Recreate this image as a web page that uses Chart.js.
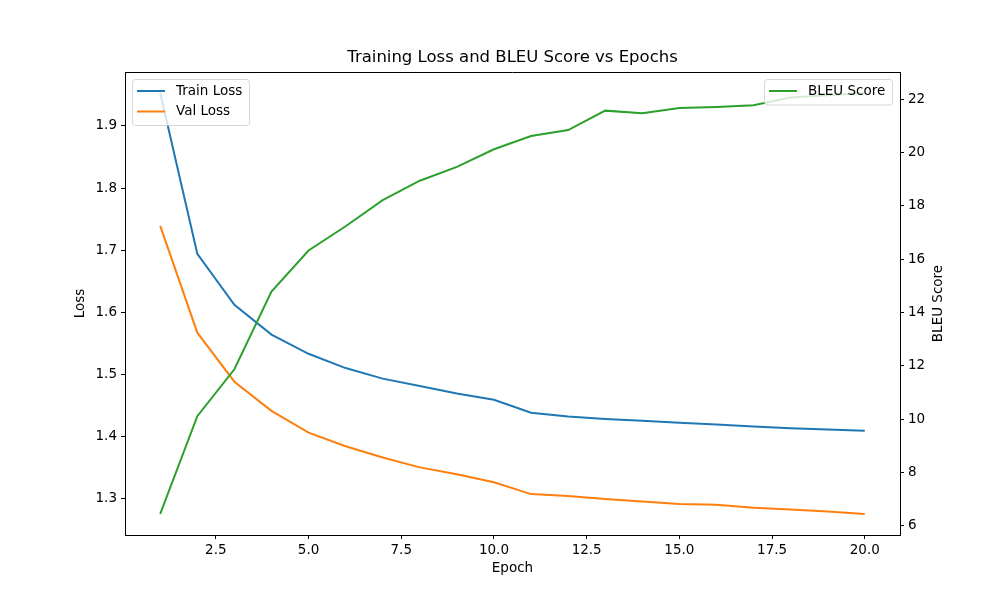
<!DOCTYPE html>
<html>
<head>
<meta charset="utf-8">
<script src="https://cdn.jsdelivr.net/npm/chart.js@4"></script>
<style>
  html, body { margin: 0; padding: 0; background: #fff; }
  #chart { display: block; }
</style>
</head>
<body>
<canvas id="chart" width="1000" height="600"></canvas>
<script>
// Values.
const epochs = [1, 2, 3, 4, 5, 6, 7, 8, 9, 10, 11, 12, 13, 14, 15, 16, 17, 18, 19, 20];
const trainLoss = [1.953, 1.694, 1.612, 1.564, 1.533, 1.510, 1.493, 1.481, 1.469, 1.459,
  1.438, 1.432, 1.428, 1.425, 1.422, 1.419, 1.416, 1.413, 1.411, 1.409];
const valLoss = [1.739, 1.567, 1.488, 1.441, 1.406, 1.384, 1.366, 1.350, 1.339, 1.326,
  1.307, 1.304, 1.299, 1.295, 1.291, 1.290, 1.285, 1.282, 1.279, 1.275];
const bleuScore = [6.44, 10.11, 11.87, 14.79, 16.33, 17.24, 18.22, 18.95, 19.47, 20.13,
  20.63, 20.85, 21.58, 21.48, 21.68, 21.72, 21.78, 22.07, 22.16, 22.24];

const xTicks = [2.5, 5.0, 7.5, 10.0, 12.5, 15.0, 17.5, 20.0];
const lossTicks = [1.3, 1.4, 1.5, 1.6, 1.7, 1.8, 1.9];
const bleuTicks = [6, 8, 10, 12, 14, 16, 18, 20, 22];

const FONT = "'DejaVu Sans', sans-serif";
Chart.defaults.color = "#000";
Chart.defaults.font.family = FONT;

// matplotlib style 5% margins around the data
function paddedRange(values) {
  const lo = Math.min(...values);
  const hi = Math.max(...values);
  const pad = (hi - lo) * 0.05;
  return { min: lo - pad, max: hi + pad };
}
const xRange = paddedRange(epochs);
const lossRange = paddedRange(trainLoss.concat(valLoss));
const bleuRange = paddedRange(bleuScore);

function toPoints(ys) {
  return epochs.map((e, i) => ({ x: e, y: ys[i] }));
}

// Title, top spine, right axis label and the two matplotlib-like legends
const decorPlugin = {
  id: "decor",
  afterDatasetsDraw(chart) {
    const { ctx, chartArea } = chart;
    const ds = chart.data.datasets;
    ctx.save();

    // top spine (the other three come from the axes)
    ctx.strokeStyle = "#000";
    ctx.lineWidth = 1;
    ctx.beginPath();
    ctx.moveTo(chartArea.left, chartArea.top + 0.5);
    ctx.lineTo(chartArea.right, chartArea.top + 0.5);
    ctx.stroke();

    ctx.fillStyle = "#000";
    ctx.font = "16.5px " + FONT;
    ctx.textAlign = "center";
    ctx.textBaseline = "middle";
    ctx.fillText("Training Loss and BLEU Score vs Epochs",
      (chartArea.left + chartArea.right) / 2, 58);

    // Chart.js turns right-hand titles the other way, so this one is drawn here
    ctx.save();
    ctx.translate(chartArea.right + 38, (chartArea.top + chartArea.bottom) / 2);
    ctx.rotate(-Math.PI / 2);
    ctx.font = "13.5px " + FONT;
    ctx.fillText("BLEU Score", 0, 0);
    ctx.restore();

    function legend(items, x, y, w) {
      const rowH = 20.5;
      const h = items.length * rowH + 5;
      ctx.fillStyle = "rgba(255,255,255,0.8)";
      ctx.strokeStyle = "rgba(204,204,204,0.8)";
      ctx.lineWidth = 1;
      ctx.beginPath();
      ctx.roundRect(x + 0.5, y + 0.5, w, h, 3);
      ctx.fill();
      ctx.stroke();
      ctx.font = "13.5px " + FONT;
      ctx.textAlign = "left";
      ctx.textBaseline = "middle";
      items.forEach((d, i) => {
        const cy = y + 12 + i * rowH;
        ctx.strokeStyle = d.borderColor;
        ctx.lineWidth = 2;
        ctx.beginPath();
        ctx.moveTo(x + 5, cy);
        ctx.lineTo(x + 33, cy);
        ctx.stroke();
        ctx.fillStyle = "#000";
        ctx.fillText(d.label, x + 44, cy);
      });
    }
    legend([ds[0], ds[1]], chartArea.left + 7, chartArea.top + 7, 117);
    legend([ds[2]], chartArea.right - 136, chartArea.top + 7, 128);
    ctx.restore();
  }
};

const ctx = document.getElementById("chart");
new Chart(ctx, {
  type: "line",
  data: {
    datasets: [
      {
        label: "Train Loss",
        data: toPoints(trainLoss),
        borderColor: "#1f77b4",
        yAxisID: "yLoss",
        order: 3
      },
      {
        label: "Val Loss",
        data: toPoints(valLoss),
        borderColor: "#ff7f0e",
        yAxisID: "yLoss",
        order: 2
      },
      {
        label: "BLEU Score",
        data: toPoints(bleuScore),
        borderColor: "#2ca02c",
        yAxisID: "yBleu",
        order: 1
      }
    ]
  },
  options: {
    responsive: false,
    animation: false,
    layout: { padding: { top: 72, left: 0, right: 0, bottom: 0 } },
    elements: {
      line: { borderWidth: 2, tension: 0, fill: false },
      point: { radius: 0, hoverRadius: 0 }
    },
    plugins: {
      legend: { display: false },
      title: { display: false },
      tooltip: { enabled: false }
    },
    scales: {
      x: {
        type: "linear",
        min: xRange.min,
        max: xRange.max,
        afterBuildTicks: (scale) => { scale.ticks = xTicks.map(v => ({ value: v })); },
        afterFit: (scale) => { scale.height = 65; },
        grid: { drawOnChartArea: false, drawTicks: true, tickLength: 4, color: "#000" },
        border: { display: true, color: "#000", width: 1 },
        ticks: {
          font: { size: 13.5 },
          padding: 3,
          maxRotation: 0,
          callback: (v) => Number(v).toFixed(1)
        },
        title: {
          display: true,
          text: "Epoch",
          font: { size: 13.5 },
          padding: { top: 0, bottom: 23 }
        }
      },
      yLoss: {
        type: "linear",
        position: "left",
        min: lossRange.min,
        max: lossRange.max,
        afterBuildTicks: (scale) => { scale.ticks = lossTicks.map(v => ({ value: v })); },
        afterFit: (scale) => { scale.width = 125; },
        grid: { drawOnChartArea: false, drawTicks: true, tickLength: 4, color: "#000" },
        border: { display: true, color: "#000", width: 1 },
        ticks: {
          font: { size: 13.5 },
          padding: 4,
          callback: (v) => Number(v).toFixed(1)
        },
        title: {
          display: true,
          text: "Loss",
          font: { size: 13.5 },
          padding: { top: 72, bottom: 0 }
        }
      },
      yBleu: {
        type: "linear",
        position: "right",
        min: bleuRange.min,
        max: bleuRange.max,
        afterBuildTicks: (scale) => { scale.ticks = bleuTicks.map(v => ({ value: v })); },
        afterFit: (scale) => { scale.width = 100; },
        grid: { drawOnChartArea: false, drawTicks: true, tickLength: 4, color: "#000" },
        border: { display: true, color: "#000", width: 1 },
        ticks: {
          font: { size: 13.5 },
          padding: 4,
          callback: (v) => String(Math.round(v))
        },
        title: { display: false }
      }
    }
  },
  plugins: [decorPlugin]
});
</script>
</body>
</html>
